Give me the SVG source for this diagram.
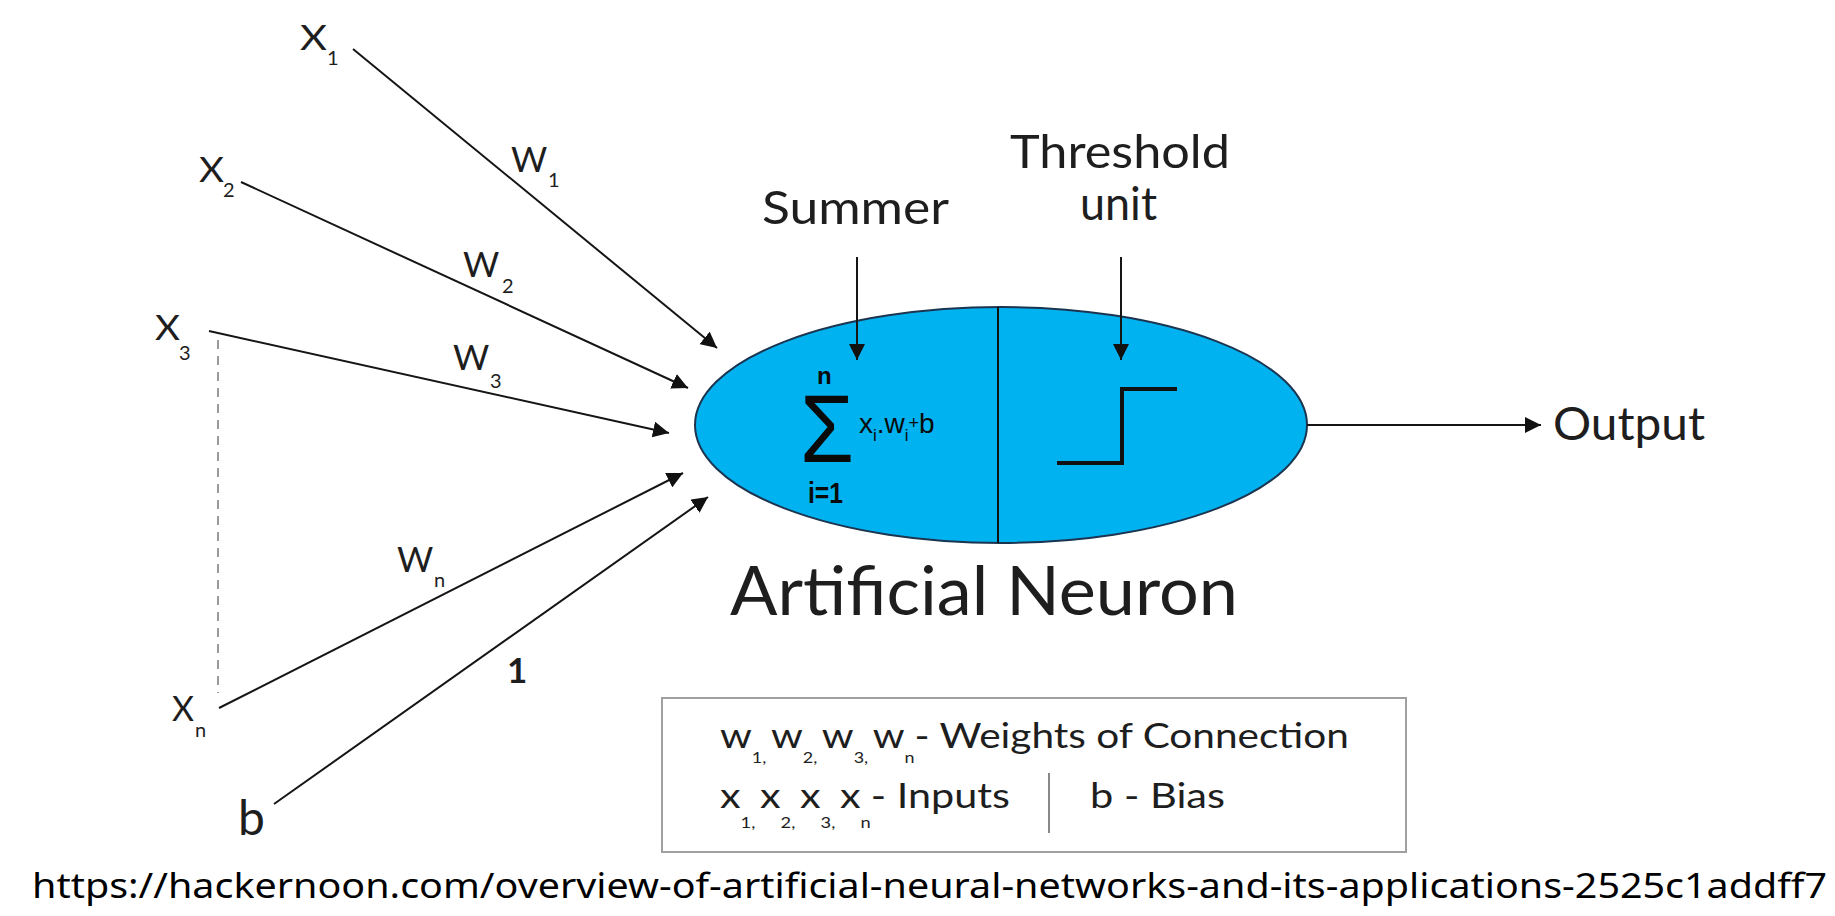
<svg xmlns="http://www.w3.org/2000/svg" width="1835" height="916" viewBox="0 0 1835 916">
<defs>
<marker id="ah" viewBox="0 0 10 10" refX="10" refY="5" markerWidth="16" markerHeight="16" markerUnits="userSpaceOnUse" orient="auto">
<path d="M0,0 L10,5 L0,10 z" fill="#111"/>
</marker>
</defs>
<style>
text{font-family:Lato,"Open Sans","Liberation Sans",sans-serif;fill:#1e1e1e}
.lbl{font-size:35px}
.sub{font-size:20px}
.big{font-size:46px}
.leg{font-size:34px}
.lsub{font-size:15px}
.con{stroke:#151515;stroke-width:2;fill:none;marker-end:url(#ah)}
.math{font-family:"Liberation Sans",sans-serif;fill:#0a0a0a}
</style>
<rect width="1835" height="916" fill="#fff"/>

<g id="neuron">
<ellipse cx="1001" cy="425" rx="306" ry="118" fill="#00b2f0" stroke="#1b3550" stroke-width="2"/>
<line x1="998" y1="307" x2="998" y2="543" stroke="#111" stroke-width="2"/>
<text class="math"><tspan x="800" y="462" style="font-size:96px" textLength="54" lengthAdjust="spacingAndGlyphs">Σ</tspan><tspan x="817" y="384" style="font-size:24px;font-weight:bold">n</tspan><tspan x="808" y="503" style="font-size:30px;font-weight:bold" textLength="35" lengthAdjust="spacingAndGlyphs">i=1</tspan></text>
<text class="math" x="859" y="433" style="font-size:28px">x<tspan dy="8" font-size="17">i</tspan><tspan dy="-8">.w</tspan><tspan dy="8" font-size="17">i</tspan><tspan dy="-12" font-size="18">+</tspan><tspan dy="4">b</tspan></text>
<polyline points="1057,463 1122,463 1122,389 1177,389" fill="none" stroke="#111" stroke-width="4"/>
</g>

<g id="label-summer"><text class="big" x="762" y="224" textLength="187" lengthAdjust="spacingAndGlyphs">Summer</text></g>
<g id="label-threshold">
<text class="big" x="1010" y="168" textLength="220" lengthAdjust="spacingAndGlyphs">Threshold</text>
<text class="big" x="1080" y="220" textLength="77" lengthAdjust="spacingAndGlyphs">unit</text>
</g>
<g id="label-output"><text class="big" x="1553" y="440" textLength="152" lengthAdjust="spacingAndGlyphs">Output</text></g>
<g id="title"><text x="730" y="615" style="font-size:68px" textLength="508" lengthAdjust="spacingAndGlyphs">Artificial Neuron</text></g>

<g id="input-x1"><text class="lbl" x="300" y="50" textLength="27" lengthAdjust="spacingAndGlyphs">X</text><text class="sub" x="327" y="65">1</text></g>
<g id="input-x2"><text class="lbl" x="199" y="182" textLength="25" lengthAdjust="spacingAndGlyphs">X</text><text class="sub" x="223" y="197">2</text></g>
<g id="input-x3"><text class="lbl" x="155" y="340" textLength="25" lengthAdjust="spacingAndGlyphs">X</text><text class="sub" x="179" y="360">3</text></g>
<g id="input-xn"><text class="lbl" x="172" y="721" textLength="22" lengthAdjust="spacingAndGlyphs">X</text><text class="sub" x="195" y="737">n</text></g>
<g id="input-b"><text x="238" y="835" style="font-size:48px">b</text></g>

<g id="weights">
<text class="lbl" x="511" y="172">W</text><text class="sub" x="548" y="187">1</text>
<text class="lbl" x="463" y="277">W</text><text class="sub" x="502" y="293">2</text>
<text class="lbl" x="453" y="370">W</text><text class="sub" x="490" y="388">3</text>
<text class="lbl" x="397" y="572">W</text><text class="sub" x="434" y="587">n</text>
<text class="lbl" x="507" y="683" style="font-weight:bold">1</text>
</g>

<g id="legend">
<rect x="662" y="698" width="744" height="154" fill="#fff" stroke="#a0a0a0" stroke-width="2"/>
<text class="leg" x="720" y="748" textLength="629" lengthAdjust="spacingAndGlyphs">w<tspan dy="15" class="lsub">1, </tspan><tspan dy="-15">w</tspan><tspan dy="15" class="lsub">2, </tspan><tspan dy="-15">w</tspan><tspan dy="15" class="lsub">3, </tspan><tspan dy="-15">w</tspan><tspan dy="15" class="lsub">n</tspan><tspan dy="-15">- Weights of Connection</tspan></text>
<text class="leg" x="720" y="808" textLength="290" lengthAdjust="spacingAndGlyphs">x<tspan dy="20" class="lsub">1, </tspan><tspan dy="-20">x</tspan><tspan dy="20" class="lsub">2, </tspan><tspan dy="-20">x</tspan><tspan dy="20" class="lsub">3, </tspan><tspan dy="-20">x</tspan><tspan dy="20" class="lsub">n</tspan><tspan dy="-20">- Inputs</tspan></text>
<line x1="1049" y1="773" x2="1049" y2="833" stroke="#888" stroke-width="2"/>
<text class="leg" x="1090" y="808" textLength="135" lengthAdjust="spacingAndGlyphs">b - Bias</text>
</g>

<g id="connectors">
<line class="con" x1="353" y1="49" x2="717" y2="348"/>
<line class="con" x1="241" y1="182" x2="688" y2="388"/>
<line class="con" x1="209" y1="331" x2="669" y2="433"/>
<line class="con" x1="219" y1="708" x2="683" y2="473"/>
<line class="con" x1="274" y1="804" x2="708" y2="497"/>
<line class="con" x1="857" y1="257" x2="857" y2="360"/>
<line class="con" x1="1121" y1="257" x2="1121" y2="360"/>
<line class="con" x1="1307" y1="425" x2="1541" y2="425"/>
<line x1="218" y1="340" x2="218" y2="693" stroke="#9a9a9a" stroke-width="2" stroke-dasharray="9 7"/>
</g>

<g id="source">
<text x="32" y="898" style="font-family:'Noto Sans','Liberation Sans',sans-serif;font-size:34px;fill:#000" textLength="1795" lengthAdjust="spacingAndGlyphs">https://hackernoon.com/overview-of-artificial-neural-networks-and-its-applications-2525c1addff7</text>
</g>
</svg>
